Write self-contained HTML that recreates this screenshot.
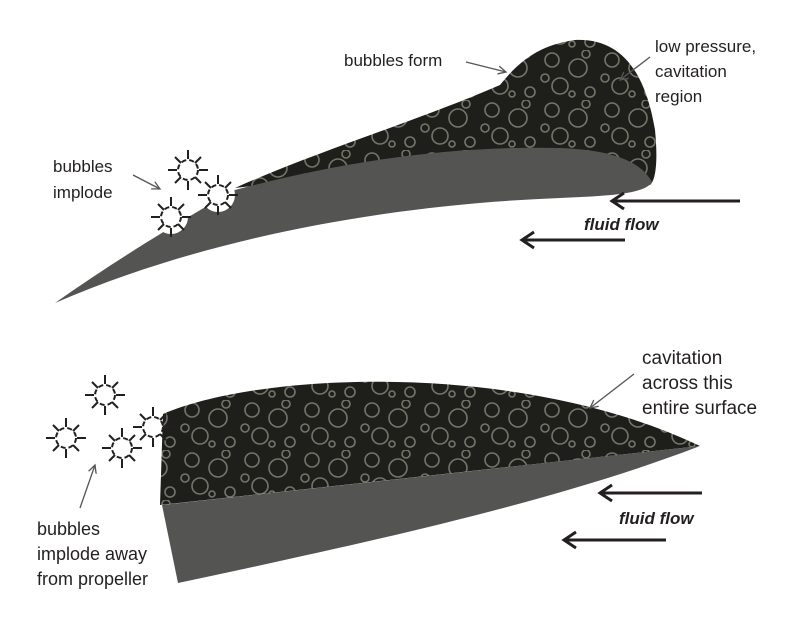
<!DOCTYPE html>
<html><head><meta charset="utf-8"><style>
html,body{margin:0;padding:0;background:#fff;}
svg{display:block;}
text{font-family:"Liberation Sans",sans-serif;font-size:17px;fill:#231f20;}
.ff{font-weight:bold;font-style:italic;}
</style></head><body>
<svg width="800" height="620" viewBox="0 0 800 620" xmlns="http://www.w3.org/2000/svg">
<defs>
<marker id="ah" markerWidth="10" markerHeight="10" refX="8" refY="5" orient="auto" markerUnits="userSpaceOnUse">
<path d="M0,1 L8,5 L0,9" fill="none" stroke="#555" stroke-width="1.3"/>
</marker>
<g id="burst" stroke="#231f20" stroke-width="2" fill="none">
<circle r="10" stroke-dasharray="5 3"/>
<line x1="0" y1="-11" x2="0" y2="-20"/><line x1="0" y1="11" x2="0" y2="20"/>
<line x1="-11" y1="0" x2="-20" y2="0"/><line x1="11" y1="0" x2="20" y2="0"/>
<line x1="7" y1="-7" x2="13" y2="-13"/><line x1="-7" y1="-7" x2="-13" y2="-13"/>
<line x1="7" y1="7" x2="13" y2="13"/><line x1="-7" y1="7" x2="-13" y2="13"/>
</g>
<pattern id="bub" width="60" height="50" patternUnits="userSpaceOnUse">
<rect width="60" height="50" fill="#1e1e1b"/>
<g fill="none" stroke="#8a8a7c" stroke-width="1.6" opacity="0.8">
<circle cx="12" cy="10" r="7"/><circle cx="38" cy="18" r="9"/><circle cx="20" cy="36" r="8"/>
<circle cx="50" cy="42" r="5"/><circle cx="5" cy="28" r="4"/><circle cx="46" cy="4" r="4"/>
<circle cx="32" cy="44" r="3"/>
</g>
</pattern>
</defs>

<!-- top blade -->
<path d="M235,188 C320,150 420,120 500,85 C520,60 540,45 575,40 C620,38 645,70 655,130 C658,160 656,180 650,185 L560,150 Z" fill="url(#bub)"/>
<path d="M55,303 C130,250 200,210 235,190 C330,165 440,145 560,148 C610,150 640,160 652,182 C645,195 600,196 560,198 C380,205 200,240 55,303 Z" fill="#545553"/>
<circle cx="171" cy="217" r="17" fill="#fff"/>
<circle cx="218" cy="195" r="17" fill="#fff"/>
<circle cx="188" cy="170" r="17" fill="#fff"/>
<use href="#burst" x="188" y="170"/>
<use href="#burst" x="218" y="195"/>
<use href="#burst" x="171" y="217"/>

<!-- bottom blade -->
<path d="M160,505 L163,414 C260,372 520,360 700,446 Z" fill="url(#bub)"/>
<path d="M162,505 L700,446 C560,500 380,540 178,583 Z" fill="#545553"/>
<use href="#burst" x="105" y="395"/>
<use href="#burst" x="66" y="438"/>
<use href="#burst" x="122" y="448"/>
<use href="#burst" x="153" y="427"/>

<!-- labels -->
<text x="344" y="66">bubbles form</text>
<line x1="466" y1="62" x2="506" y2="72" stroke="#555" stroke-width="1.3" marker-end="url(#ah)"/>
<text x="655" y="52">low pressure,</text>
<text x="655" y="77">cavitation</text>
<text x="655" y="102">region</text>
<line x1="650" y1="57" x2="620" y2="80" stroke="#555" stroke-width="1.3" marker-end="url(#ah)"/>
<text x="53" y="172">bubbles</text>
<text x="53" y="198">implode</text>
<line x1="133" y1="175" x2="160" y2="189" stroke="#555" stroke-width="1.3" marker-end="url(#ah)"/>

<text x="642" y="364" style="font-size:19px">cavitation</text>
<text x="642" y="389" style="font-size:19px">across this</text>
<text x="642" y="414" style="font-size:19px">entire surface</text>
<line x1="634" y1="374" x2="590" y2="408" stroke="#555" stroke-width="1.3" marker-end="url(#ah)"/>
<text x="37" y="535" style="font-size:18px">bubbles</text>
<text x="37" y="560" style="font-size:18px">implode away</text>
<text x="37" y="585" style="font-size:18px">from propeller</text>
<line x1="80" y1="508" x2="95" y2="465" stroke="#555" stroke-width="1.3" marker-end="url(#ah)"/>

<!-- flow arrows -->
<g stroke="#231f20" stroke-width="3" fill="none">
<line x1="740" y1="201" x2="612" y2="201"/><path d="M624,193 L612,201 L624,209"/>
<line x1="625" y1="240" x2="522" y2="240"/><path d="M534,232 L522,240 L534,248"/>
<line x1="702" y1="493" x2="600" y2="493"/><path d="M612,485 L600,493 L612,501"/>
<line x1="666" y1="540" x2="564" y2="540"/><path d="M576,532 L564,540 L576,548"/>
</g>
<text class="ff" x="584" y="230">fluid flow</text>
<text class="ff" x="619" y="524">fluid flow</text>
</svg>
</body></html>
